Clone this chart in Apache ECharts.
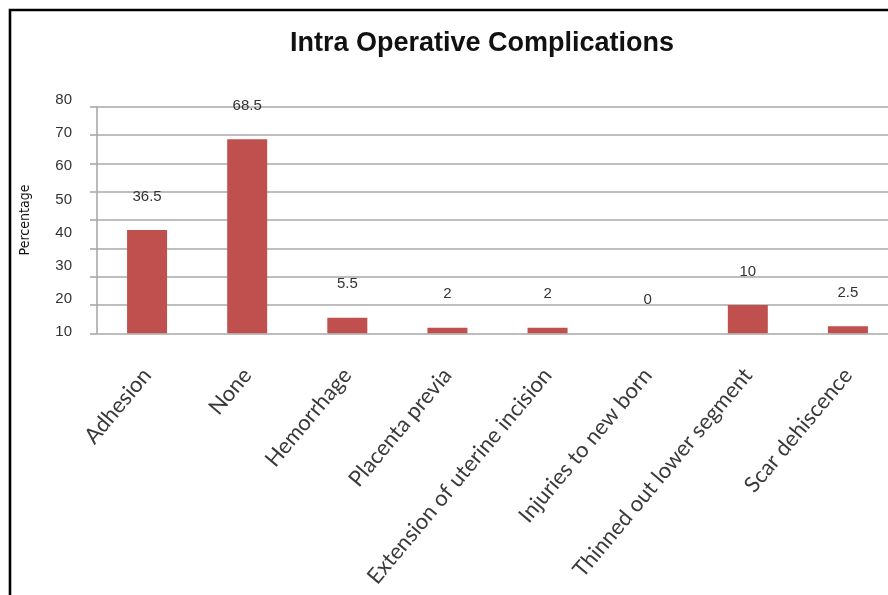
<!DOCTYPE html>
<html>
<head>
<meta charset="utf-8">
<title>Intra Operative Complications</title>
<script src="https://cdn.jsdelivr.net/npm/echarts@6/dist/echarts.min.js"></script>
<style>
  html, body { margin: 0; padding: 0; background: #ffffff; }
  #chart { width: 888px; height: 595px; }
</style>
</head>
<body>
<div id="chart"></div>
<script>
// Complication categories and their percentages
const categories = [
  'Adhesion',
  'None',
  'Hemorrhage',
  'Placenta previa',
  'Extension of uterine incision',
  'Injuries to new born',
  'Thinned out lower segment',
  'Scar dehiscence'
];
const percentages = [36.5, 68.5, 5.5, 2, 2, 0, 10, 2.5];

// Printed tick labels on the value axis
const tickLabels = [10, 20, 30, 40, 50, 60, 70, 80];

// Plot scale (gridlines) runs 0..80 in steps of 10
const scaleMin = 0;
const scaleMax = 80;
const scaleStep = 10;

const chart = echarts.init(document.getElementById('chart'), null, { renderer: 'canvas' });

const gridLine = { color: '#a9a9a9', width: 1.6 };

const option = {
  backgroundColor: '#ffffff',
  animation: false,
  title: {
    text: 'Intra Operative Complications',
    left: 477,
    top: 25,
    textAlign: 'center',
    textStyle: {
      fontFamily: 'Liberation Sans, Arial, sans-serif',
      fontWeight: 'bold',
      fontSize: 27,
      color: '#111111'
    }
  },
  graphic: [
    {
      type: 'polyline',
      shape: { points: [[10, 600], [10, 10], [900, 10]] },
      style: { stroke: '#000000', lineWidth: 2.6, fill: null },
      silent: true
    }
  ],
  grid: [
    // bars and gridlines (plot area runs past the right edge)
    { left: 97, width: 801, top: 106.7, bottom: 261.7, containLabel: false, outerBoundsMode: 'none' },
    // printed value-axis labels
    { left: 97, width: 801, top: 100, bottom: 263, containLabel: false, outerBoundsMode: 'none' }
  ],
  xAxis: [
    {
      type: 'category',
      gridIndex: 0,
      data: categories,
      axisLine: { show: false },
      axisTick: { show: false },
      axisLabel: {
        interval: 0,
        rotate: 50,
        margin: 38,
        fontFamily: 'Lato, Open Sans, sans-serif',
        fontSize: 22,
        color: '#3a3a3a'
      }
    },
    { type: 'value', gridIndex: 1, show: false }
  ],
  yAxis: [
    {
      type: 'value',
      gridIndex: 0,
      min: scaleMin,
      max: scaleMax,
      interval: scaleStep,
      name: 'Percentage',
      nameLocation: 'middle',
      nameRotate: 90,
      nameGap: 65,
      nameTextStyle: {
        fontFamily: 'Liberation Sans Narrow, DejaVu Sans Condensed, sans-serif',
        fontSize: 14,
        color: '#111111'
      },
      axisLine: { show: true, lineStyle: gridLine },
      axisTick: { show: true, inside: false, length: 7, lineStyle: gridLine },
      axisLabel: { show: false },
      splitLine: { show: true, lineStyle: gridLine }
    },
    {
      type: 'value',
      gridIndex: 1,
      min: tickLabels[0],
      max: tickLabels[tickLabels.length - 1],
      interval: tickLabels[1] - tickLabels[0],
      axisLine: { show: false },
      axisTick: { show: false },
      splitLine: { show: false },
      axisLabel: {
        margin: 25,
        fontFamily: 'Liberation Sans, Arial, sans-serif',
        fontSize: 15,
        color: '#333333'
      }
    }
  ],
  series: [
    {
      type: 'bar',
      xAxisIndex: 0,
      yAxisIndex: 0,
      data: percentages,
      barWidth: 40,
      itemStyle: { color: '#c0504d' },
      label: {
        show: true,
        position: 'top',
        distance: 26,
        fontFamily: 'Liberation Sans, Arial, sans-serif',
        fontSize: 15,
        color: '#333333'
      }
    }
  ]
};

chart.setOption(option);
</script>
</body>
</html>
